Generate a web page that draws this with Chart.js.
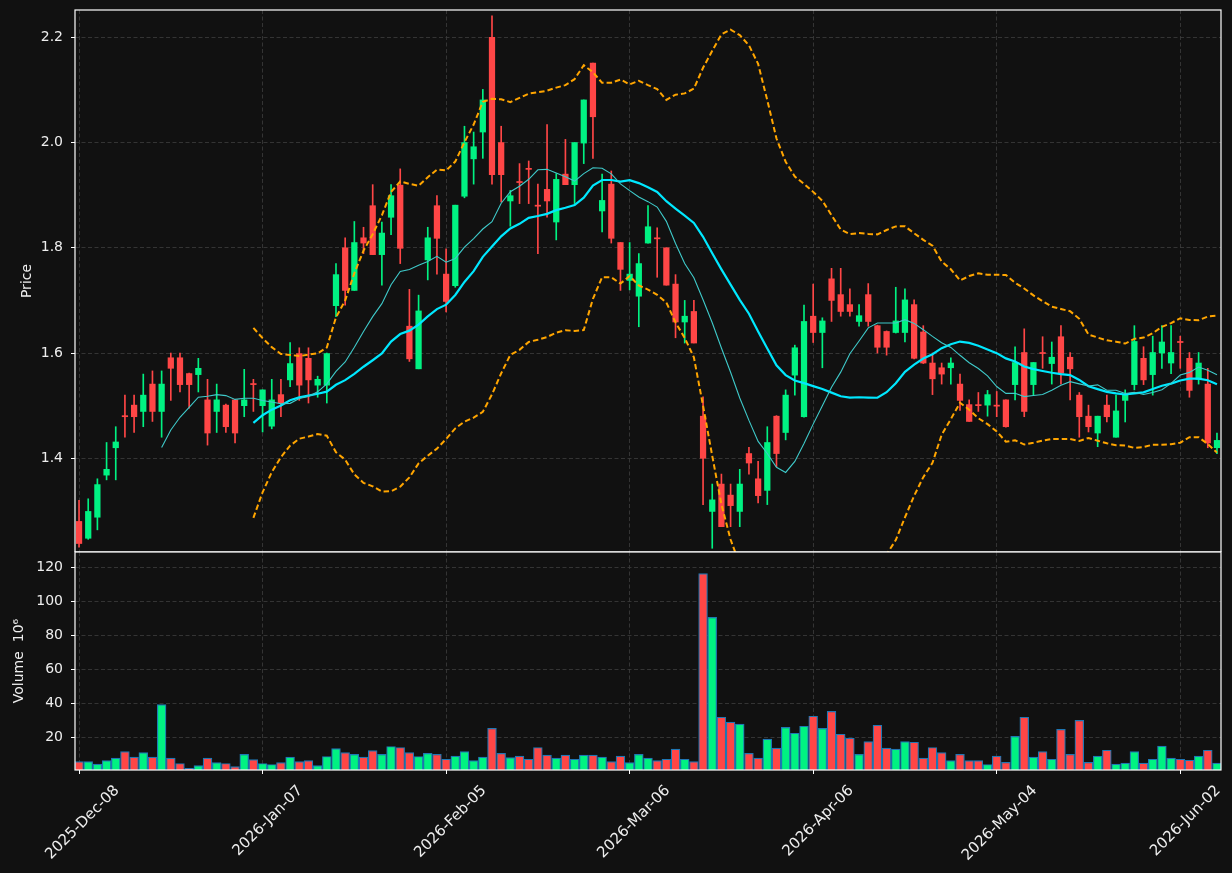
<!DOCTYPE html>
<html><head><meta charset="utf-8">
<script src="https://cdn.jsdelivr.net/npm/chart.js@4/dist/chart.umd.min.js"></script>
<style>
html,body{margin:0;padding:0;background:#111111;}
#wrap{position:relative;width:1232px;height:873px;overflow:hidden;background:#111111;}
#cp{position:absolute;left:0;top:0;}
#cv{position:absolute;left:0;top:545px;}
</style></head><body>
<div id="wrap">
<canvas id="cp" width="1232" height="552"></canvas>
<canvas id="cv" width="1232" height="328"></canvas>
</div>
<script>
// ---- data ----
const opens = [1.280,1.248,1.288,1.368,1.420,1.481,1.501,1.489,1.541,1.489,
1.591,1.591,1.561,1.559,1.511,1.489,1.501,1.511,1.500,1.542,
1.500,1.461,1.521,1.549,1.599,1.590,1.539,1.539,1.690,1.800,
1.719,1.819,1.880,1.787,1.858,1.919,1.651,1.570,1.777,1.880,
1.750,1.728,1.898,1.969,2.020,2.200,2.000,1.889,1.926,1.951,
1.881,1.911,1.849,1.940,1.920,1.999,2.151,1.870,1.921,1.810,
1.738,1.708,1.809,1.819,1.800,1.731,1.659,1.679,1.480,1.299,
1.351,1.330,1.299,1.409,1.361,1.339,1.480,1.449,1.558,1.479,
1.670,1.639,1.741,1.711,1.692,1.660,1.711,1.652,1.641,1.639,
1.639,1.692,1.640,1.581,1.572,1.572,1.541,1.502,1.502,1.501,
1.501,1.511,1.540,1.601,1.540,1.601,1.580,1.631,1.592,1.520,
1.480,1.448,1.501,1.440,1.510,1.540,1.590,1.559,1.600,1.581,
1.622,1.590,1.550,1.541,1.420];
const highs = [1.320,1.323,1.361,1.430,1.460,1.520,1.520,1.560,1.566,1.566,
1.600,1.600,1.562,1.590,1.550,1.541,1.503,1.512,1.569,1.550,
1.530,1.550,1.550,1.620,1.610,1.610,1.556,1.600,1.770,1.819,
1.850,1.839,1.920,1.849,1.920,1.950,1.721,1.710,1.839,1.899,
1.798,1.881,2.031,2.020,2.101,2.241,2.031,1.909,1.960,1.965,
1.921,2.034,1.941,2.006,2.000,2.081,2.151,1.940,1.946,1.810,
1.810,1.789,1.880,1.838,1.800,1.749,1.700,1.700,1.517,1.351,
1.370,1.351,1.379,1.421,1.394,1.460,1.481,1.530,1.615,1.691,
1.731,1.667,1.761,1.761,1.722,1.692,1.732,1.653,1.642,1.725,
1.722,1.701,1.652,1.600,1.581,1.591,1.560,1.511,1.525,1.529,
1.527,1.511,1.612,1.646,1.582,1.631,1.621,1.652,1.601,1.525,
1.501,1.480,1.520,1.520,1.530,1.652,1.612,1.632,1.652,1.652,
1.632,1.601,1.601,1.571,1.448];
const lows = [1.231,1.246,1.264,1.359,1.359,1.440,1.449,1.460,1.470,1.440,
1.510,1.526,1.495,1.526,1.425,1.449,1.449,1.429,1.479,1.489,
1.450,1.456,1.479,1.536,1.510,1.505,1.516,1.505,1.669,1.691,
1.719,1.789,1.787,1.729,1.825,1.770,1.584,1.570,1.739,1.750,
1.678,1.725,1.895,1.921,1.970,1.921,1.887,1.841,1.884,1.884,
1.789,1.858,1.815,1.920,1.884,1.960,1.970,1.830,1.809,1.719,
1.720,1.650,1.809,1.744,1.729,1.629,1.619,1.619,1.312,1.229,
1.270,1.270,1.270,1.370,1.315,1.312,1.384,1.435,1.520,1.478,
1.620,1.572,1.660,1.670,1.670,1.651,1.651,1.600,1.596,1.638,
1.621,1.589,1.580,1.521,1.541,1.541,1.491,1.470,1.489,1.480,
1.479,1.459,1.511,1.479,1.520,1.571,1.541,1.541,1.511,1.440,
1.450,1.422,1.469,1.440,1.469,1.530,1.540,1.520,1.571,1.561,
1.571,1.516,1.541,1.420,1.409];
const closes = [1.238,1.299,1.350,1.379,1.431,1.479,1.479,1.520,1.489,1.541,
1.571,1.540,1.540,1.571,1.448,1.511,1.460,1.448,1.511,1.540,
1.530,1.511,1.505,1.580,1.539,1.549,1.550,1.599,1.749,1.719,
1.810,1.809,1.787,1.828,1.899,1.799,1.589,1.680,1.819,1.818,
1.698,1.881,2.000,1.992,2.081,1.939,1.939,1.899,1.924,1.949,
1.879,1.889,1.930,1.920,2.000,2.081,2.049,1.890,1.818,1.759,
1.750,1.770,1.840,1.817,1.729,1.659,1.670,1.619,1.400,1.321,
1.270,1.310,1.351,1.391,1.329,1.430,1.409,1.520,1.610,1.660,
1.639,1.661,1.700,1.679,1.679,1.671,1.660,1.611,1.611,1.661,
1.701,1.590,1.581,1.551,1.560,1.581,1.510,1.470,1.500,1.521,
1.499,1.460,1.582,1.489,1.582,1.599,1.592,1.562,1.570,1.479,
1.460,1.480,1.479,1.490,1.520,1.622,1.549,1.601,1.621,1.601,
1.620,1.529,1.581,1.429,1.434];
const volumes = [5.7,5.7,4.2,6.3,7.7,11.6,8.3,11.0,8.3,39.2,
7.7,4.6,1.8,3.4,7.7,5.1,4.6,2.8,10.0,6.9,
4.6,4.0,5.1,8.3,5.7,6.3,3.4,8.7,13.4,11.0,
10.0,8.3,12.2,10.0,14.6,14.0,11.0,8.7,10.5,10.0,
7.1,8.9,11.6,6.3,8.3,25.3,10.5,8.1,8.9,7.1,
14.0,9.5,7.7,9.5,7.1,9.5,9.5,8.3,5.7,8.9,
5.1,10.0,7.7,6.3,7.1,13.0,7.1,5.7,116.3,90.6,
31.8,28.9,27.7,10.5,7.7,18.9,13.6,25.9,22.4,26.5,
32.4,25.3,35.3,21.8,19.5,10.0,17.5,27.1,13.6,13.0,
17.5,17.1,7.7,14.0,11.0,6.3,10.0,6.3,6.3,4.0,
8.9,5.3,20.6,31.8,8.3,11.6,7.1,24.7,10.0,30.0,
5.3,8.9,12.4,4.2,4.8,11.6,4.8,7.1,14.8,7.7,
7.1,6.5,8.9,12.4,4.8];
const tickIdx = [0,20,40,60,80,100,120];
const tickLabels = ['2025-Dec-08','2026-Jan-07','2026-Feb-05','2026-Mar-06','2026-Apr-06','2026-May-04','2026-Jun-02'];
const priceTicks = [1.4,1.6,1.8,2.0,2.2];
const volTicks = [20,40,60,80,100,120];

// ---- derived indicators (moving averages / Bollinger bands of the closes) ----
function sma(arr, n){ const out=[]; for(let i=n-1;i<arr.length;i++){ let s=0; for(let k=i-n+1;k<=i;k++) s+=arr[k]; out.push({x:i,y:s/n}); } return out; }
function bands(arr, n, m){ const up=[], lo=[]; for(let i=n-1;i<arr.length;i++){ let s=0; for(let k=i-n+1;k<=i;k++) s+=arr[k]; const mu=s/n; let v=0; for(let k=i-n+1;k<=i;k++) v+=(arr[k]-mu)*(arr[k]-mu); const sd=Math.sqrt(v/(n-1)); up.push({x:i,y:mu+m*sd}); lo.push({x:i,y:mu-m*sd}); } return [up,lo]; }

const UP='#00f282', DOWN='#ff4646';
const cols = closes.map((c,i)=> c>=opens[i] ? UP : DOWN);
const bodies = closes.map((c,i)=>({x:i, y:[opens[i], c]}));
const wicks = closes.map((c,i)=>({x:i, y:[lows[i], highs[i]]}));
const volPts = volumes.map((v,i)=>({x:i, y:v}));
const ma10 = sma(closes,10), ma20 = sma(closes,20);
const [bbU, bbL] = bands(closes,20,2);

const FONT = {family:'DejaVu Sans', size:14};
const XFONT = {family:'DejaVu Sans', size:15};
const TXT = '#eeeeee';
const GRIDC = '#3e3e3e';
const DASH = [4,2.5];

const frame = { id:'frame', afterDraw(chart){ const a=chart.chartArea, c=chart.ctx; c.save(); c.strokeStyle='#ffffff'; c.lineWidth=1.2; c.strokeRect(a.left, a.top, a.right-a.left, a.bottom-a.top); c.restore(); } };
const noPad = s => { s.paddingTop = 0; s.paddingBottom = 0; s.paddingLeft = 0; s.paddingRight = 0; };

const xBase = () => ({ type:'linear', min:-0.44, max:124.44, offset:false,
  afterBuildTicks: s => { s.ticks = tickIdx.map(v=>({value:v})); } });

new Chart(document.getElementById('cp'), {
  type:'bar',
  data:{ datasets:[
    {type:'line', label:'MA10', data:ma10, borderColor:'#3fcaca', borderWidth:1.1, pointRadius:0, tension:0, order:0},
    {type:'line', label:'MA20', data:ma20, borderColor:'#00e8ff', borderWidth:2.2, pointRadius:0, tension:0, order:0},
    {type:'line', label:'BB upper', data:bbU, borderColor:'#ffa500', borderWidth:2, borderDash:[5.5,3], pointRadius:0, tension:0, order:0},
    {type:'line', label:'BB lower', data:bbL, borderColor:'#ffa500', borderWidth:2, borderDash:[5.5,3], pointRadius:0, tension:0, order:0},
    {type:'bar', label:'body', data:bodies, backgroundColor:cols, barThickness:5.6, minBarLength:1, grouped:false, order:1},
    {type:'bar', label:'wick', data:wicks, backgroundColor:cols, barThickness:1, grouped:false, order:2}
  ]},
  options:{
    responsive:false, animation:false,
    layout:{padding:{top:10,right:11,left:0,bottom:0}},
    plugins:{legend:{display:false}, tooltip:{enabled:false}},
    scales:{
      x:Object.assign(xBase(), {
        ticks:{display:false},
        grid:{color:GRIDC, lineWidth:0.8, drawTicks:false, offset:false},
        border:{display:false, dash:DASH},
        afterFit: s => { s.height = 0; noPad(s); } }),
      y:{ type:'linear', min:1.2219, max:2.2519,
        afterBuildTicks: s => { s.ticks = priceTicks.map(v=>({value:v})); },
        afterFit: s => { s.width = 75; noPad(s); },
        ticks:{color:TXT, font:FONT, padding:8, callback: v => Number(v).toFixed(1)},
        grid:{color:GRIDC, lineWidth:0.8, tickLength:4, tickColor:'#ffffff', tickWidth:1, tickBorderDash:[]},
        border:{display:false, dash:DASH},
        title:{display:true, text:'Price', color:TXT, font:FONT, padding:{top:18.6, bottom:0}} }
    }
  },
  plugins:[frame]
});

new Chart(document.getElementById('cv'), {
  type:'bar',
  data:{ datasets:[
    {label:'Volume', data:volPts, backgroundColor:cols, borderColor:'#1f77b4', borderWidth:1.2, barThickness:8.8, grouped:false}
  ]},
  options:{
    responsive:false, animation:false,
    layout:{padding:{top:7,right:11,left:0,bottom:0}},
    plugins:{legend:{display:false}, tooltip:{enabled:false}},
    scales:{
      x:Object.assign(xBase(), {
        ticks:{color:TXT, font:XFONT, minRotation:45, maxRotation:45, autoSkip:false, padding:8, labelOffset:38,
          callback:(v,i)=>tickLabels[i]},
        grid:{color:GRIDC, lineWidth:0.8, tickLength:4, tickColor:'#ffffff', tickWidth:1, tickBorderDash:[], offset:false},
        border:{display:false, dash:DASH},
        afterFit: s => { s.height = 103; noPad(s); } }),
      y:{ type:'linear', min:0.76, max:129,
        afterBuildTicks: s => { s.ticks = volTicks.map(v=>({value:v})); },
        afterFit: s => { s.width = 75; noPad(s); },
        ticks:{color:TXT, font:FONT, padding:8, callback: v => String(Math.round(v))},
        grid:{color:GRIDC, lineWidth:0.8, tickLength:4, tickColor:'#ffffff', tickWidth:1, tickBorderDash:[]},
        border:{display:false, dash:DASH},
        title:{display:true, text:'Volume  10\u2076', color:TXT, font:FONT, padding:{top:10.6, bottom:0}} }
    }
  },
  plugins:[frame]
});
</script>
</body></html>
